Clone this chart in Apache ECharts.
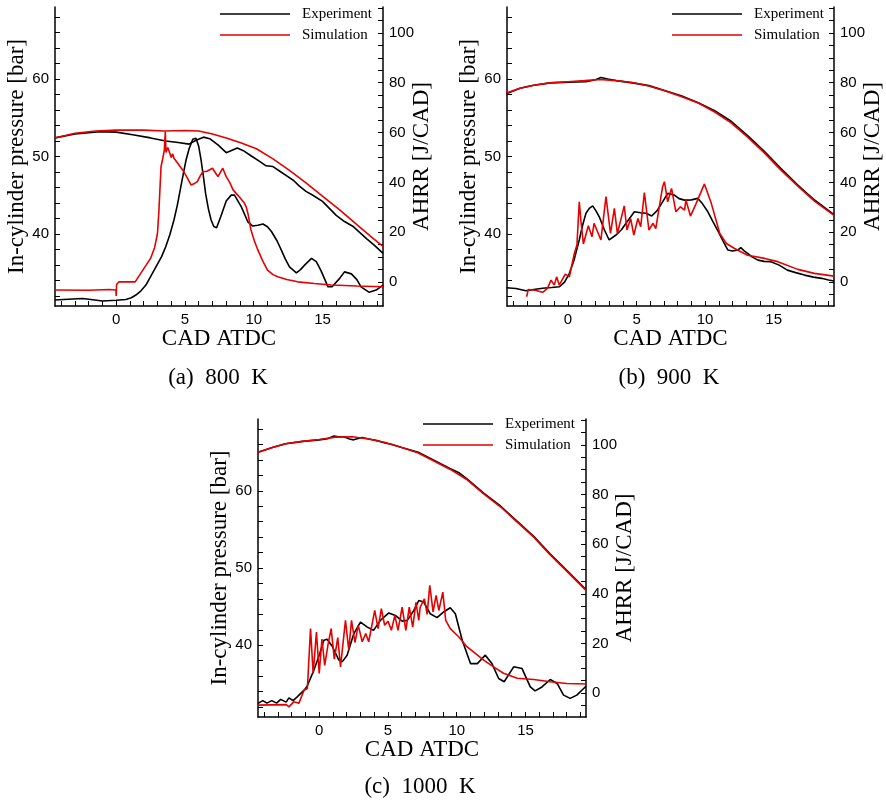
<!DOCTYPE html>
<html>
<head>
<meta charset="utf-8">
<script src="https://cdn.jsdelivr.net/npm/echarts@6/dist/echarts.min.js"></script>
<style>
  html, body { margin: 0; padding: 0; background: #fff; }
  #main { width: 886px; height: 804px; }
</style>
</head>
<body>
<div id="main"></div>
<script>
// tick positions
const xTicks = [-4, -3, -2, -1, 0, 1, 2, 3, 4, 5, 6, 7, 8, 9, 10, 11, 12, 13, 14, 15, 16, 17, 18, 19]
const xLabels = [0, 5, 10, 15]
const pTicks = [32, 34, 36, 38, 40, 42, 44, 46, 48, 50, 52, 54, 56, 58, 60, 62, 64, 66, 68]
const pLabels = [40, 50, 60]
const hTicks = [-5, 0, 5, 10, 15, 20, 25, 30, 35, 40, 45, 50, 55, 60, 65, 70, 75, 80, 85, 90, 95, 100, 105, 110]
const hLabels = [0, 20, 40, 60, 80, 100]

// (a) 800 K  [CAD, value]
const p800Exp = [[-4.45, 52.4], [-3, 52.9], [-1.2, 53.2], [0, 53.15], [1.2, 52.8], [2.5, 52.4], [3.6, 52.0], [4.5, 51.8], [5.3, 51.6], [5.8, 52.1], [6.35, 52.5], [6.8, 52.3], [7.4, 51.5], [8.0, 50.5], [8.3, 50.7], [8.8, 51.1], [9.3, 50.7], [9.8, 50.1], [10.4, 49.4], [10.9, 48.8], [11.4, 48.7], [11.9, 48.1], [12.4, 47.5], [12.9, 46.9], [13.3, 46.2], [13.8, 45.5], [14.3, 45.0], [15.0, 44.2], [15.5, 43.3], [16.0, 42.4], [16.6, 41.6], [17.2, 41.0], [17.7, 40.2], [18.2, 39.4], [18.8, 38.5], [19.4, 37.5]]
const p800Sim = [[-4.45, 52.4], [-3, 53.0], [-1.5, 53.3], [0, 53.4], [2, 53.4], [3.5, 53.3], [5, 53.35], [6, 53.3], [7, 52.9], [8, 52.4], [9, 51.8], [10.2, 51.0], [11.4, 49.7], [12.6, 48.2], [13.8, 46.6], [15, 44.9], [16.25, 43.1], [17.5, 41.2], [18.7, 39.4], [19.4, 38.4]]
const h800Exp = [[-4.45, -7.2], [-3.5, -6.9], [-2.45, -6.6], [-1.7, -7.1], [-1, -7.6], [0, -7.3], [0.7, -7.0], [1.1, -6.3], [1.43, -5.2], [1.8, -3.5], [2.16, -1.2], [2.5, 2.2], [2.9, 6.2], [3.3, 10.2], [3.6, 14.2], [3.9, 19], [4.2, 24.9], [4.45, 31], [4.7, 38.3], [4.9, 44], [5.08, 49], [5.3, 53.5], [5.57, 57.3], [5.8, 57.7], [6.0, 54.5], [6.17, 49], [6.35, 42], [6.5, 35.6], [6.7, 29.5], [6.9, 24.9], [7.1, 22.3], [7.3, 21.8], [7.6, 26.2], [8.0, 32.5], [8.36, 34.9], [8.6, 34.9], [9.1, 30.2], [9.57, 24.2], [9.93, 22.5], [10.3, 22.8], [10.67, 23.3], [11.0, 22.2], [11.3, 20.2], [11.7, 16.5], [12.0, 12.9], [12.3, 9.2], [12.6, 6.1], [13.1, 3.7], [13.4, 5.0], [13.7, 6.8], [14.2, 9.5], [14.55, 8.2], [14.9, 4.5], [15.4, -1.9], [15.7, -1.9], [16.25, 1.5], [16.6, 4.1], [17.1, 3.3], [17.5, 1.0], [17.8, -1.9], [18.4, -4.1], [18.9, -3.2], [19.4, -1.2]]
const h800Sim = [[-4.45, -3.2], [-2, -3.3], [-0.5, -3.0], [-0.02, -3.2], [0, -5.6], [0.03, -1], [0.2, 0.1], [1.38, 0.1], [1.9, 4.5], [2.5, 9.5], [2.8, 14], [3.0, 19.5], [3.1, 28], [3.26, 46.3], [3.4, 50], [3.5, 53], [3.57, 60.4], [3.62, 52], [3.75, 54], [3.86, 52.3], [4.0, 50], [4.1, 51.5], [4.2, 49.7], [4.5, 47.5], [4.83, 45], [5.1, 42.5], [5.44, 39], [5.7, 39.6], [5.9, 40.3], [6.1, 42.5], [6.3, 44.3], [6.6, 44.5], [7.0, 45.7], [7.2, 44], [7.4, 42.3], [7.75, 45.7], [8.0, 42.3], [8.25, 40], [8.5, 37], [8.9, 34.5], [9.33, 31.6], [9.45, 30.2], [9.6, 27], [9.8, 20.9], [10.05, 16.5], [10.3, 12.9], [10.65, 8.5], [11.0, 4.8], [11.4, 3.0], [11.75, 2.1], [12.4, 1.0], [13.2, 0.1], [14.4, -0.6], [15.65, -1.2], [17.5, -1.6], [19.4, -1.9]]

// (b) 900 K
const p900Exp = [[-4.5, 58.1], [-3.5, 58.8], [-2.5, 59.2], [-1.3, 59.5], [0, 59.6], [1.3, 59.65], [2.0, 59.9], [2.4, 60.2], [2.9, 60.0], [3.5, 59.8], [4.7, 59.5], [5.9, 59.15], [7.1, 58.5], [8.3, 57.8], [9.5, 56.95], [10.7, 55.9], [11.9, 54.55], [13.1, 52.7], [14.3, 50.7], [15.5, 48.5], [16.8, 46.25], [18.0, 44.35], [19.4, 42.5]]
const p900Sim = [[-4.5, 58.2], [-3.5, 58.8], [-2.5, 59.2], [-1.3, 59.5], [0, 59.65], [1.2, 59.8], [2.3, 59.95], [3.5, 59.8], [4.7, 59.55], [5.9, 59.1], [7.1, 58.45], [8.3, 57.7], [9.5, 56.9], [10.7, 55.75], [11.9, 54.35], [13.1, 52.5], [14.3, 50.5], [15.5, 48.3], [16.8, 46.1], [18.0, 44.2], [19.4, 42.4]]
const h900Exp = [[-4.5, -2.3], [-3.8, -2.6], [-3.07, -3.5], [-2.5, -3.0], [-1.85, -2.5], [-1.2, -2.2], [-0.64, -1.9], [-0.25, 0], [0.1, 3.5], [0.45, 9], [0.82, 16.9], [1.05, 22.5], [1.31, 27.6], [1.55, 29.6], [1.8, 30.6], [2.05, 28.5], [2.28, 26.2], [2.65, 21], [3.0, 16.9], [3.5, 18.9], [3.9, 21], [4.23, 23.6], [4.55, 26], [4.84, 28.2], [5.3, 27.8], [5.7, 27.6], [6.1, 26.5], [6.5, 28.7], [6.9, 32.2], [7.27, 35.6], [7.76, 34.9], [8.1, 33.5], [8.5, 32.9], [9.0, 33.0], [9.46, 33.6], [9.8, 31.5], [10.2, 28.2], [10.55, 24.5], [10.9, 20.9], [11.3, 16.5], [11.65, 12.9], [12.0, 12.5], [12.4, 12.9], [12.6, 13.8], [12.85, 12.5], [13.1, 11.5], [13.45, 10.0], [13.85, 8.8], [14.3, 8.3], [14.8, 8.2], [15.4, 6.8], [16.0, 4.8], [16.6, 3.8], [17.25, 2.8], [17.9, 2.0], [18.5, 1.5], [19.0, 0.8], [19.4, 0.4]]
const h900Sim = [[-3.02, -5.9], [-2.9, -3.0], [-2.4, -3.3], [-1.85, -4.1], [-1.5, -2.5], [-1.24, 0.8], [-1.0, -1.2], [-0.83, 2.1], [-0.64, -1.2], [-0.2, 3.2], [0.1, 2.1], [0.46, 11.5], [0.65, 14.9], [0.82, 32.2], [0.95, 24], [1.12, 15.3], [1.48, 22.6], [1.75, 18.2], [1.9, 23.6], [2.4, 16.9], [2.77, 34.3], [3.1, 19.5], [3.38, 29.6], [3.6, 19.5], [4.1, 30.6], [4.3, 20.9], [4.57, 25.5], [4.8, 18.9], [5.1, 25.5], [5.3, 22.2], [5.57, 35.9], [5.9, 20.9], [6.2, 23.6], [6.4, 21.5], [6.9, 38.3], [7.03, 40.3], [7.27, 32.2], [7.55, 37.6], [7.87, 28.2], [8.2, 30.2], [8.5, 28.9], [8.6, 33], [8.93, 26.5], [9.35, 31.6], [9.95, 39.4], [10.45, 31.6], [11.07, 19.5], [11.55, 15.5], [12.15, 13.5], [13.1, 10.8], [14.35, 9.5], [15.3, 8.2], [16.76, 5.1], [17.97, 3.5], [19.4, 2.4]]

// (c) 1000 K
const p1000Exp = [[-4.45, 65.0], [-3.4, 65.6], [-2.45, 66.1], [-1.2, 66.4], [0, 66.6], [0.6, 66.75], [1.07, 67.1], [1.4, 67.0], [1.8, 67.0], [2.2, 66.7], [2.5, 66.6], [3.1, 66.9], [3.6, 66.7], [4.2, 66.5], [4.8, 66.2], [5.3, 66.0], [6.0, 65.6], [7.2, 65.0], [8.3, 64.0], [9.5, 62.9], [10.2, 62.3], [10.7, 61.6], [11.96, 59.7], [13.2, 58.0], [14.4, 56.05], [15.6, 54.1], [16.8, 51.8], [18.0, 49.7], [19.4, 47.2]]
const p1000Sim = [[-4.45, 65.0], [-3.4, 65.6], [-2.45, 66.1], [-1.2, 66.4], [0, 66.65], [1.2, 66.95], [2.4, 67.0], [3.6, 66.7], [4.8, 66.25], [6.0, 65.6], [7.2, 64.9], [8.3, 63.9], [9.5, 62.8], [10.7, 61.5], [11.96, 59.6], [13.2, 57.9], [14.4, 55.95], [15.6, 54.0], [16.8, 51.7], [18.0, 49.6], [19.4, 47.1]]
const h1000Exp = [[-4.45, -4.1], [-4.1, -3.0], [-3.8, -4.0], [-3.45, -3.0], [-3.1, -4.0], [-2.8, -2.5], [-2.4, -3.6], [-2.2, -1.9], [-1.9, -3.0], [-1.6, -1.5], [-1.1, 1.2], [-0.9, 2.6], [-0.39, 9.2], [0, 15.3], [0.34, 21.3], [0.58, 21.7], [0.97, 18.7], [1.43, 13.3], [1.67, 12.6], [2.03, 15.3], [2.52, 24], [3.0, 28.6], [3.5, 26.6], [3.95, 25.3], [4.45, 29.3], [5.06, 32.3], [5.54, 31.3], [6.03, 29], [6.4, 29.3], [6.88, 33.3], [7.24, 37.3], [7.6, 36.7], [8.07, 32], [8.57, 30.4], [9.05, 32.7], [9.53, 34.4], [9.9, 32], [10.4, 21.3], [11.0, 11.9], [11.5, 11.9], [12.08, 15.3], [12.56, 11.9], [13.05, 5.9], [13.45, 4.6], [14.14, 10.6], [14.75, 9.9], [15.35, 2.5], [15.7, 0.9], [16.2, 2.5], [16.8, 5.5], [17.3, 3.9], [17.77, -0.8], [18.25, -2.1], [18.73, -0.8], [19.4, 2.8]]
const h1000Sim = [[-4.45, -4.8], [-2.4, -4.6], [-2.2, -5.5], [-1.85, -3.5], [-1.48, -4.1], [-1.1, 1.2], [-0.86, 1.9], [-0.63, 26.0], [-0.44, 7.9], [-0.2, 24.6], [0, 7.9], [0.2, 21.8], [0.4, 11.2], [0.65, 19.8], [0.87, 26], [1.1, 13.7], [1.35, 22.4], [1.55, 10.6], [1.91, 29.3], [2.15, 17.3], [2.35, 29.3], [2.6, 20.4], [2.84, 27.3], [3.13, 20.7], [3.38, 24], [3.6, 20.7], [4.04, 33.3], [4.28, 26], [4.52, 34], [4.76, 27.3], [5.0, 29], [5.25, 25.3], [5.5, 31.3], [5.73, 25.3], [6.03, 34.6], [6.3, 25.3], [6.55, 34.6], [6.8, 26.6], [7.04, 36.6], [7.24, 29.3], [7.34, 34.6], [7.65, 38.0], [7.85, 31.7], [8.04, 43.4], [8.28, 32.7], [8.5, 39.4], [8.7, 33.3], [8.99, 40.7], [9.2, 29.3], [9.53, 26], [10.14, 22.7], [10.74, 18.7], [11.35, 16], [11.96, 13.3], [12.68, 10.6], [13.4, 8], [14.4, 6], [15.6, 5.5], [16.8, 4.6], [18.0, 3.9], [19.4, 3.7]]

const panels = [
  { grid: { left: 55, top: 7, width: 328, height: 299 }, legend: { left: 220, top: 6 }, caption: ['(a)  800  K', 218, 378], p: [p800Exp, p800Sim], h: [h800Exp, h800Sim] },
  { grid: { left: 507, top: 7, width: 327, height: 299 }, legend: { left: 672, top: 6 }, caption: ['(b)  900  K', 669, 378], p: [p900Exp, p900Sim], h: [h900Exp, h900Sim] },
  { grid: { left: 258, top: 419, width: 328, height: 298 }, legend: { left: 423, top: 416 }, caption: ['(c)  1000  K', 420, 787], p: [p1000Exp, p1000Sim], h: [h1000Exp, h1000Sim] }
]

const serif = 'Liberation Serif'
const sans = 'Liberation Sans'
const black = '#000000'
const red = '#e60000'

const axisLine = { show: true, onZero: false, lineStyle: { color: black, width: 1.5 } }
const tick = (values) => ({ show: true, inside: true, length: 5, customValues: values, lineStyle: { color: black, width: 1 } })
const label = (values) => ({ customValues: values, color: black, fontFamily: sans, fontSize: 15, margin: 6 })

const xAxis = panels.map((pn, i) => ({
  type: 'value',
  gridIndex: i,
  min: -4.45,
  max: 19.4,
  name: 'CAD ATDC',
  nameLocation: 'middle',
  nameGap: 14,
  nameTextStyle: { fontFamily: serif, fontSize: 23, color: black },
  axisLine,
  axisTick: tick(xTicks),
  axisLabel: label(xLabels),
  splitLine: { show: false }
}))

const yAxis = []
panels.forEach((pn, i) => {
  yAxis.push({
    type: 'value',
    gridIndex: i,
    position: 'left',
    min: 30.7,
    max: 69.3,
    name: 'In-cylinder pressure [bar]',
    nameLocation: 'middle',
    nameRotate: 90,
    nameGap: 25,
    nameTextStyle: { fontFamily: serif, fontSize: 23, color: black },
    axisLine,
    axisTick: tick(pTicks),
    axisLabel: label(pLabels),
    splitLine: { show: false }
  })
  yAxis.push({
    type: 'value',
    gridIndex: i,
    position: 'right',
    min: -9.6,
    max: 110.4,
    name: 'AHRR [J/CAD]',
    nameLocation: 'middle',
    nameRotate: 90,
    nameGap: 27,
    nameMoveOverlap: false,
    nameTextStyle: { fontFamily: serif, fontSize: 23, color: black },
    axisLine,
    axisTick: tick(hTicks),
    axisLabel: label(hLabels),
    splitLine: { show: false }
  })
})

const line = (name, data, color, xi, yi) => ({
  name,
  type: 'line',
  data,
  xAxisIndex: xi,
  yAxisIndex: yi,
  symbol: 'none',
  showSymbol: false,
  animation: false,
  lineStyle: { color, width: 1.6 },
  itemStyle: { color }
})

const series = []
panels.forEach((pn, i) => {
  series.push(line('Experiment', pn.p[0], black, i, i * 2))
  series.push(line('Simulation', pn.p[1], red, i, i * 2))
  series.push(line('Experiment', pn.h[0], black, i, i * 2 + 1))
  series.push(line('Simulation', pn.h[1], red, i, i * 2 + 1))
})

const legend = panels.map(pn => ({
  left: pn.legend.left,
  top: pn.legend.top,
  padding: 0,
  orient: 'vertical',
  icon: 'rect',
  itemWidth: 70,
  itemHeight: 1.6,
  itemGap: 5,
  selectedMode: false,
  data: ['Experiment', 'Simulation'],
  textStyle: { fontFamily: serif, fontSize: 15, color: black, padding: [0, 0, 0, 7], lineHeight: 16 }
}))

const graphic = panels.map(pn => ({
  type: 'text',
  x: pn.caption[1],
  y: pn.caption[2],
  style: { text: pn.caption[0], fontFamily: serif, fontSize: 23, fill: black, textAlign: 'center', textVerticalAlign: 'middle' }
}))

const chart = echarts.init(document.getElementById('main'), null, { renderer: 'canvas' })
chart.setOption({
  animation: false,
  backgroundColor: '#ffffff',
  grid: panels.map(pn => pn.grid),
  xAxis,
  yAxis,
  legend,
  graphic,
  series
})
</script>
</body>
</html>
